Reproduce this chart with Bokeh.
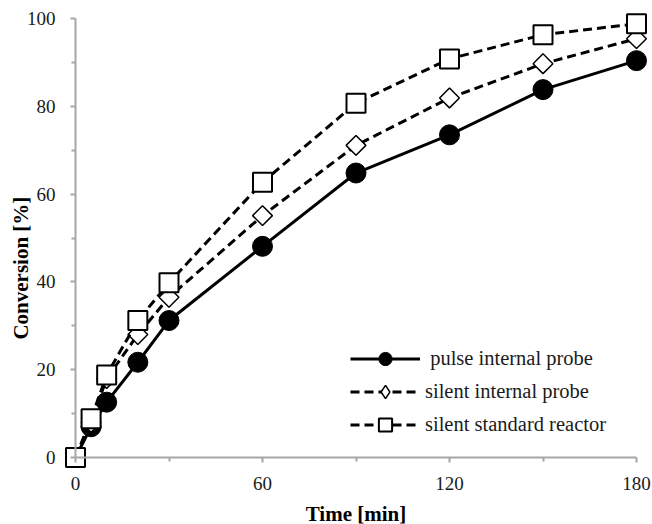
import math
from bokeh.plotting import figure
from bokeh.models import Range1d, FixedTicker, Legend, LegendItem, Label
from bokeh.embed import file_html
from bokeh.resources import INLINE

# ---- data ----
time_min = [0, 5, 10, 20, 30, 60, 90, 120, 150, 180]
pulse_internal = [0, 7.0, 12.6, 21.7, 31.2, 48.1, 64.8, 73.5, 83.8, 90.4]
silent_internal = [0, 8.0, 18.0, 28.0, 36.5, 55.1, 71.1, 81.9, 89.7, 95.4]
silent_standard = [0, 8.8, 18.8, 31.2, 39.8, 62.7, 80.7, 90.8, 96.3, 98.8]

x_major = [0, 60, 120, 180]
x_minor = [30, 90, 150]
y_major = [0, 20, 40, 60, 80, 100]
y_minor = [10, 30, 50, 70, 90]

labels = [" pulse internal probe", "silent internal probe", "silent standard reactor"]
x_title = "Time [min]"
y_title = "Conversion  [%]"

# ---- layout: the frame fills the whole canvas, axes are pinned at 0 ----
W, H = 652, 524
x0_px, x180_px = 75, 636      # where x=0 and x=180 land
y100_px, y0_px = 18, 457      # where y=100 and y=0 land
kx = (x180_px - x0_px) / 180.0
ky = (y0_px - y100_px) / 100.0
x_start = -x0_px / kx
x_end = 180 + (W - x180_px) / kx
y_end = 100 + y100_px / ky
y_start = -(H - y0_px) / ky

p = figure(width=W, height=H, output_backend="svg", toolbar_location=None,
           x_range=Range1d(x_start, x_end), y_range=Range1d(y_start, y_end),
           min_border=0, min_border_left=0, min_border_right=0,
           min_border_top=0, min_border_bottom=0)
p.outline_line_color = None
p.grid.visible = False
p.background_fill_color = "white"
p.border_fill_color = "white"

FONT = "Liberation Serif"
AX = "#a6a6a6"

for ax, maj, mnr, b in ((p.xaxis, x_major, x_minor, (0, 180)),
                        (p.yaxis, y_major, y_minor, (0, 100))):
    ax.ticker = FixedTicker(ticks=maj, minor_ticks=mnr)
    ax.fixed_location = 0
    ax.bounds = b
    ax.axis_line_color = AX
    ax.axis_line_width = 2
    ax.major_tick_line_color = AX
    ax.minor_tick_line_color = AX
    ax.major_tick_line_width = 2
    ax.minor_tick_line_width = 2
    ax.major_tick_in = 0
    ax.major_tick_out = 5
    ax.minor_tick_in = 0
    ax.minor_tick_out = 4
    ax.major_label_text_font = FONT
    ax.major_label_text_font_size = "19px"
    ax.major_label_text_color = "#1a1a1a"
    ax.axis_label_text_font = FONT
    ax.axis_label_text_font_style = "bold"
    ax.axis_label_text_font_size = "21px"
    ax.axis_label_text_color = "#000000"

p.xaxis.axis_label = x_title
p.xaxis.major_label_standoff = 14
p.yaxis.major_label_standoff = 15
p.xaxis.axis_label_standoff = 9

# y title placed a little below the axis centre, as in the original
ylab = Label(x=(20 - x0_px) / kx, y=(y0_px - 265) / ky, text=y_title,
             angle=math.pi / 2, text_align="center", text_baseline="middle",
             text_font=FONT, text_font_style="bold", text_font_size="21px",
             text_color="#000000")
p.add_layout(ylab)

l1 = p.line(time_min, pulse_internal, line_color="black", line_width=3)
s1 = p.scatter(time_min, pulse_internal, marker="circle", size=20,
               fill_color="black", line_color="black")
l2 = p.line(time_min, silent_internal, line_color="black", line_width=3,
            line_dash="9 5")
# plain diamond (used for the legend swatch), covered by the rotated square
s2_leg = p.scatter(time_min, silent_internal, marker="diamond", size=13,
                   fill_color="white", line_color="black", line_width=1.5)
s2 = p.scatter(time_min, silent_internal, marker="square", angle=math.pi / 4,
               size=14, fill_color="white", line_color="black", line_width=1.5)
l3 = p.line(time_min, silent_standard, line_color="black", line_width=3,
            line_dash="9 5")
s3 = p.scatter(time_min, silent_standard, marker="square", size=19,
               fill_color="white", line_color="black", line_width=2)

legend = Legend(items=[LegendItem(label=labels[0], renderers=[l1, s1]),
                       LegendItem(label=labels[1], renderers=[l2, s2_leg]),
                       LegendItem(label=labels[2], renderers=[l3, s3])],
                location=(350, H - 441),
                orientation="vertical", padding=0, margin=0, spacing=0,
                glyph_width=70, glyph_height=33, label_standoff=5,
                label_height=33,
                label_text_font=FONT, label_text_font_size="20.5px",
                label_text_color="#1a1a1a",
                border_line_color=None, background_fill_alpha=0)
p.add_layout(legend, "center")

open("out.html", "w").write(file_html(p, INLINE))
